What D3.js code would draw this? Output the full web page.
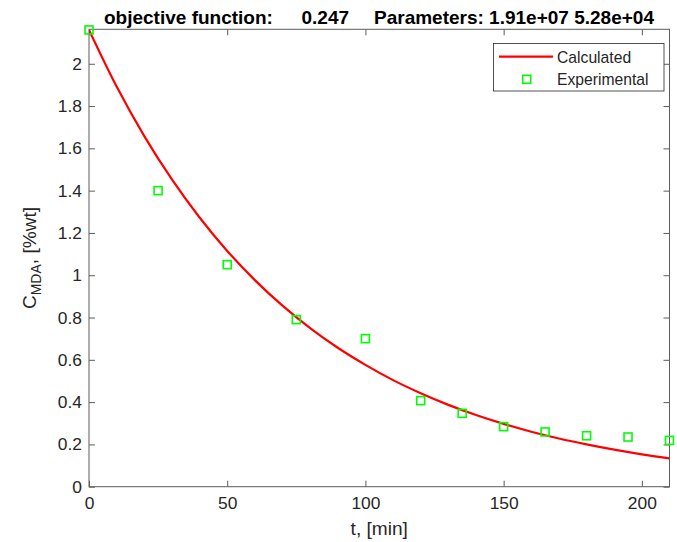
<!DOCTYPE html>
<html>
<head>
<meta charset="utf-8">
<script src="https://cdn.jsdelivr.net/npm/d3@7"></script>
<style>
  html, body { margin: 0; padding: 0; background: #fff; }
  svg { display: block; font-family: "Liberation Sans", Arial, sans-serif; }
</style>
</head>
<body>
<svg id="chart" width="677" height="542"></svg>
<script>
// ---- data ----
const expTime = [0, 25, 50, 75, 100, 120, 135, 150, 165, 180, 195, 210];
const expConc = [2.16, 1.40, 1.05, 0.79, 0.70, 0.407, 0.347, 0.284, 0.259, 0.241, 0.235, 0.219];
const calcTime = [0, 10, 20, 30, 40, 50, 60, 70, 80, 90, 100, 110, 120, 130, 140, 150, 160, 170, 180, 190, 200, 210];
const calcConc = [2.160, 1.892, 1.658, 1.453, 1.273, 1.115, 0.977, 0.856, 0.750, 0.657, 0.576, 0.504, 0.442, 0.387, 0.339, 0.297, 0.260, 0.228, 0.200, 0.175, 0.153, 0.134];
const xTicks = [0, 50, 100, 150, 200];
const yTicks = [0, 0.2, 0.4, 0.6, 0.8, 1, 1.2, 1.4, 1.6, 1.8, 2];
const titleParts = ["objective function:", "0.247", "Parameters: 1.91e+07 5.28e+04"];
const legendLabels = ["Calculated", "Experimental"];

// ---- layout ----
const L = 89, R = 669.5, T = 29.3, B = 486.7;
const svg = d3.select("#chart");
const x = d3.scaleLinear().domain([0, 210]).range([L, R]);
const y = d3.scaleLinear().domain([0, 2.163]).range([B, T]);

const axisColor = "#5c5c5c";
const textColor = "#262626";
const tickFont = "17.4px";

// clip
svg.append("defs").append("clipPath").attr("id", "clip")
  .append("rect").attr("x", L).attr("y", T - 6).attr("width", R - L).attr("height", B - T + 12);

// axes
function styleAxis(g, showLabels) {
  g.select(".domain").remove();
  g.selectAll(".tick line").attr("stroke", axisColor).attr("stroke-width", 1);
  g.selectAll(".tick text").attr("fill", textColor).style("font-size", tickFont)
    .style("font-family", '"Liberation Sans", Arial, sans-serif');
  if (!showLabels) g.selectAll(".tick text").remove();
}
const fmt = d => d3.format("~g")(d);

svg.append("g").attr("transform", `translate(0,${B})`)
  .call(d3.axisBottom(x).tickValues(xTicks).tickFormat(fmt).tickSizeInner(-6).tickSizeOuter(0).tickPadding(10))
  .call(g => styleAxis(g, true));
svg.append("g").attr("transform", `translate(0,${T})`)
  .call(d3.axisTop(x).tickValues(xTicks).tickSizeInner(-6).tickSizeOuter(0))
  .call(g => styleAxis(g, false));
svg.append("g").attr("transform", `translate(${L},0)`)
  .call(d3.axisLeft(y).tickValues(yTicks).tickFormat(fmt).tickSizeInner(-6).tickSizeOuter(0).tickPadding(7))
  .call(g => styleAxis(g, true));
svg.append("g").attr("transform", `translate(${R},0)`)
  .call(d3.axisRight(y).tickValues(yTicks).tickSizeInner(-6).tickSizeOuter(0))
  .call(g => styleAxis(g, false));

// box
svg.append("rect").attr("x", L).attr("y", T).attr("width", R - L).attr("height", B - T)
  .attr("fill", "none").attr("stroke", axisColor).attr("stroke-width", 1);

// calculated line
const line = d3.line().x((d, i) => x(calcTime[i])).y(d => y(d)).curve(d3.curveMonotoneX);
svg.append("path").datum(calcConc)
  .attr("clip-path", "url(#clip)")
  .attr("d", line).attr("fill", "none").attr("stroke", "#ff0000").attr("stroke-width", 2.2);

// experimental points
const ms = 8;
svg.append("g").selectAll("rect").data(expConc).join("rect")
  .attr("x", (d, i) => x(expTime[i]) - ms / 2)
  .attr("y", d => y(d) - ms / 2)
  .attr("width", ms).attr("height", ms)
  .attr("fill", "none").attr("stroke", "#00ff00").attr("stroke-width", 1.6);

// title
const title = svg.append("text").attr("y", 24).attr("fill", "#000")
  .style("font-size", "19px").style("font-weight", "bold");
title.append("tspan").attr("x", 104).text(titleParts[0]);
title.append("tspan").attr("x", 301.5).text(titleParts[1]);
title.append("tspan").attr("x", 374).text(titleParts[2]);

// x label
svg.append("text").attr("x", (L + R) / 2).attr("y", 535).attr("text-anchor", "middle")
  .attr("fill", textColor).style("font-size", "19.1px").text("t, [min]");

// y label
const yl = svg.append("text").attr("transform", `translate(36,${(T + B) / 2}) rotate(-90)`)
  .attr("text-anchor", "middle").attr("fill", textColor).style("font-size", "19.1px");
yl.append("tspan").text("C");
yl.append("tspan").attr("dy", 5).style("font-size", "14px").text("MDA");
yl.append("tspan").attr("dy", -5).text(", [%wt]");

// legend
const lg = svg.append("g");
lg.append("rect").attr("x", 493.5).attr("y", 43.5).attr("width", 170.5).attr("height", 47.5)
  .attr("fill", "#fff").attr("stroke", textColor).attr("stroke-width", 0.8);
lg.append("line").attr("x1", 499).attr("x2", 553).attr("y1", 56.7).attr("y2", 56.7)
  .attr("stroke", "#ff0000").attr("stroke-width", 2.2);
lg.append("rect").attr("x", 526.7 - ms / 2).attr("y", 79.3 - ms / 2).attr("width", ms).attr("height", ms)
  .attr("fill", "none").attr("stroke", "#00ff00").attr("stroke-width", 1.6);
lg.selectAll("text.leg").data(legendLabels).join("text").attr("class", "leg")
  .attr("x", 557).attr("y", (d, i) => 62.5 + i * 22.5)
  .attr("fill", textColor).style("font-size", "15.7px").text(d => d);
</script>
</body>
</html>
